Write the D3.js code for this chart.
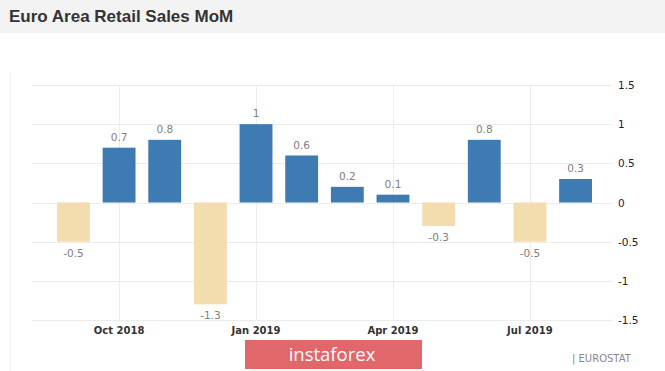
<!DOCTYPE html>
<html>
<head>
<meta charset="utf-8">
<title>Euro Area Retail Sales MoM</title>
<style>
  body {margin: 0; background: #fff;}
  svg {display: block;}
</style>
</head>
<body>
<svg id="chart" width="665" height="371"></svg>
<script src="https://d3js.org/d3.v7.min.js"></script>
<script>
var months = ["Sep 2018", "Oct 2018", "Nov 2018", "Dec 2018", "Jan 2019", "Feb 2019",
              "Mar 2019", "Apr 2019", "May 2019", "Jun 2019", "Jul 2019", "Aug 2019"];
var values = [-0.5, 0.7, 0.8, -1.3, 1, 0.6, 0.2, 0.1, -0.3, 0.8, -0.5, 0.3];
var yTicks = [1.5, 1, 0.5, 0, -0.5, -1, -1.5];
var xTickMonths = ["Oct 2018", "Jan 2019", "Apr 2019", "Jul 2019"];

var svg = d3.select("#chart");
var W = 665, H = 371;

// title bar
svg.append("rect").attr("width", W).attr("height", 33).attr("fill", "#f3f3f3");
svg.append("text").attr("x", 9).attr("y", 22)
   .attr("font-family", "Liberation Sans, Arial, sans-serif")
   .attr("font-size", 17).attr("font-weight", "bold").attr("fill", "#333")
   .text("Euro Area Retail Sales MoM");

// faint left frame line
svg.append("line").attr("x1", 10.5).attr("x2", 10.5).attr("y1", 72).attr("y2", 371)
   .attr("stroke", "#f3f3f3");

var gridLeft = 32, gridRight = 612;
var x = d3.scaleBand().domain(months).range([57, 592]).paddingInner(0.28).paddingOuter(0);
var y = d3.scaleLinear().domain([-1.5, 1.5]).range([320, 85]);

// horizontal grid
svg.append("g").selectAll("line").data(yTicks).join("line")
   .attr("x1", gridLeft).attr("x2", gridRight)
   .attr("y1", function(d){ return Math.round(y(d)) + 0.5; })
   .attr("y2", function(d){ return Math.round(y(d)) + 0.5; })
   .attr("stroke", "#ececec");

// vertical grid
svg.append("g").selectAll("line").data(xTickMonths).join("line")
   .attr("x1", function(d){ return Math.round(x(d) + x.bandwidth() / 2) + 0.5; })
   .attr("x2", function(d){ return Math.round(x(d) + x.bandwidth() / 2) + 0.5; })
   .attr("y1", y(1.5)).attr("y2", y(-1.5))
   .attr("stroke", "#ececec");

// bars
svg.append("g").selectAll("rect").data(values).join("rect")
   .attr("x", function(d, i){ return x(months[i]); })
   .attr("width", x.bandwidth())
   .attr("y", function(d){ return y(Math.max(0, d)); })
   .attr("height", function(d){ return Math.abs(y(d) - y(0)); })
   .attr("fill", function(d){ return d >= 0 ? "#3f7bb3" : "#f3dcad"; });

// value labels
svg.append("g").selectAll("text").data(values).join("text")
   .attr("x", function(d, i){ return x(months[i]) + x.bandwidth() / 2; })
   .attr("y", function(d){ return d >= 0 ? y(d) - 7 : y(d) + 15; })
   .attr("text-anchor", "middle")
   .attr("font-family", "DejaVu Sans, Verdana, sans-serif")
   .attr("font-size", 10.5).attr("fill", "#808080")
   .text(function(d){ return d; });

// right y axis labels
svg.append("g").selectAll("text").data(yTicks).join("text")
   .attr("x", 618).attr("y", function(d){ return y(d) + 4; })
   .attr("font-family", "DejaVu Sans, Verdana, sans-serif")
   .attr("font-size", 10.5).attr("fill", "#222")
   .text(function(d){ return d; });

// x labels
svg.append("g").selectAll("text").data(xTickMonths).join("text")
   .attr("x", function(d){ return x(d) + x.bandwidth() / 2; })
   .attr("y", 334)
   .attr("text-anchor", "middle")
   .attr("font-family", "DejaVu Sans, Verdana, sans-serif")
   .attr("font-size", 10).attr("font-weight", "bold").attr("fill", "#333")
   .text(function(d){ return d; });

// source
svg.append("text").attr("x", 572).attr("y", 362)
   .attr("font-family", "DejaVu Sans, Verdana, sans-serif")
   .attr("font-size", 10).attr("fill", "#888")
   .text("| EUROSTAT");

// watermark
svg.append("rect").attr("x", 245).attr("y", 340).attr("width", 177).attr("height", 29)
   .attr("fill", "#e0686b");
svg.append("text").attr("x", 332).attr("y", 361).attr("text-anchor", "middle")
   .attr("font-family", "Open Sans, DejaVu Sans, sans-serif")
   .attr("font-size", 18.5).attr("fill", "#fff")
   .text("instaforex");
</script>
</body>
</html>
